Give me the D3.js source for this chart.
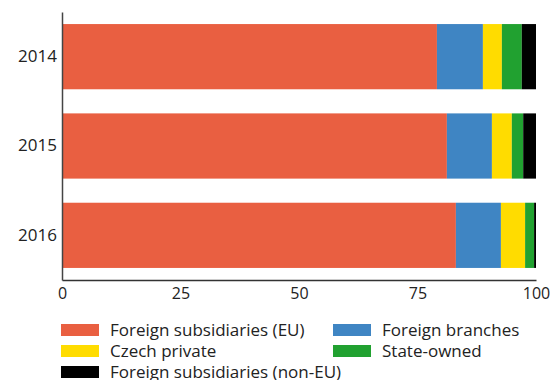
<!DOCTYPE html>
<html>
<head>
<meta charset="utf-8">
<script src="https://cdn.jsdelivr.net/npm/d3@7"></script>
<style>
  body { margin: 0; background: #fff; }
  text { font-family: "Open Sans", "Noto Sans", sans-serif; fill: #222; }
</style>
</head>
<body>
<svg class="chart" width="552" height="380"></svg>
<script>
// categories (top to bottom) and series values, in percent
var years = ["2014", "2015", "2016"];
var seriesNames = ["Foreign subsidiaries (EU)", "Foreign branches", "Czech private", "State-owned", "Foreign subsidiaries (non-EU)"];
var subsEU    = [79.1, 81.2, 83.1];
var branches  = [9.7, 9.5, 9.5];
var czechPriv = [4.0, 4.2, 5.1];
var stateOwn  = [4.2, 2.4, 1.9];
var subsNonEU = [3.0, 2.7, 0.4];
var xTicks = [0, 25, 50, 75, 100];
var colors = ["#e95f41", "#3f85c3", "#ffdc00", "#21a130", "#000000"];

var svg = d3.select("svg.chart");

// set the dimensions and margins of the graph
var margin = {top: 12, right: 16, bottom: 100, left: 62},
    width = 552 - margin.left - margin.right,
    height = 380 - margin.top - margin.bottom;

var g = svg.append("g")
    .attr("transform", "translate(" + margin.left + "," + margin.top + ")");

var values = [subsEU, branches, czechPriv, stateOwn, subsNonEU];
var data = years.map(function(y, i) {
    var row = {year: y};
    seriesNames.forEach(function(s, j) { row[s] = values[j][i]; });
    return row;
});
var stacked = d3.stack().keys(seriesNames)(data);

var x = d3.scaleLinear().domain([0, 100]).range([0, width]);
var y = d3.scaleBand()
    .domain(years)
    .range([0, height])
    .paddingInner(0.27)
    .paddingOuter(0.135);

// bars
g.selectAll("g.layer")
    .data(stacked)
    .enter()
    .append("g")
      .attr("class", "layer")
      .attr("fill", function(d, i) { return colors[i]; })
    .selectAll("rect")
    .data(function(d) { return d; })
    .enter()
    .append("rect")
      .attr("x", function(d) { return x(d[0]); })
      .attr("y", function(d) { return y(d.data.year); })
      .attr("width", function(d) { return x(d[1]) - x(d[0]); })
      .attr("height", y.bandwidth());

// X axis
var xAxis = g.append("g")
    .attr("transform", "translate(0," + height + ")")
    .call(d3.axisBottom(x).tickValues(xTicks).tickSize(0).tickPadding(8));
xAxis.select(".domain").attr("stroke", "#333").attr("stroke-width", 1.5);
xAxis.selectAll("text")
    .style("font-size", "16px")
    .style("font-family", "'Open Sans', sans-serif")
    .attr("fill", "#222");

// Y axis
var yAxis = g.append("g")
    .call(d3.axisLeft(y).tickSize(0).tickPadding(5));
yAxis.select(".domain").attr("stroke", "#444").attr("stroke-width", 1.5);
yAxis.selectAll("text")
    .style("font-size", "17px")
    .style("font-family", "'Open Sans', sans-serif")
    .attr("fill", "#222");

// legend
var legendPos = [[61, 324], [333, 324], [61, 345], [333, 345], [61, 366]];
var legend = svg.selectAll("g.legend")
    .data(seriesNames)
    .enter()
    .append("g")
      .attr("class", "legend")
      .attr("transform", function(d, i) { return "translate(" + legendPos[i][0] + "," + legendPos[i][1] + ")"; });
legend.append("rect")
    .attr("width", 38)
    .attr("height", 12)
    .attr("fill", function(d, i) { return colors[i]; });
legend.append("text")
    .attr("x", 49)
    .attr("y", 6)
    .attr("dy", "0.35em")
    .style("font-size", "17px")
    .text(function(d) { return d; });
</script>
</body>
</html>
